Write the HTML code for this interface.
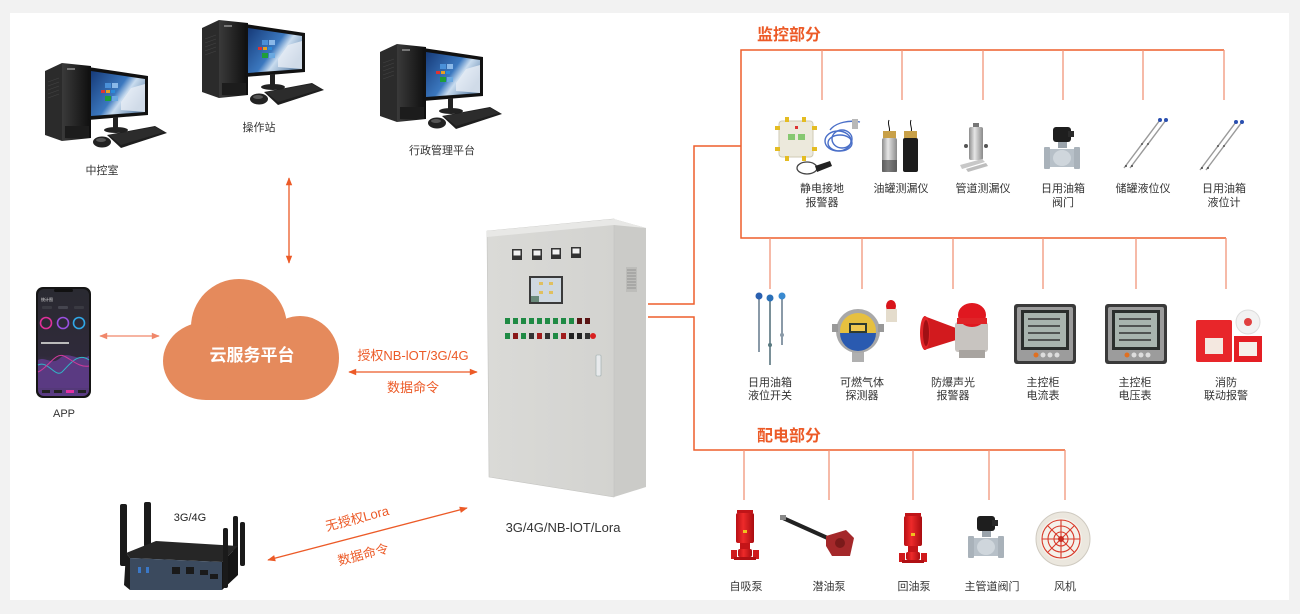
<!DOCTYPE html>
<html><head><meta charset="utf-8">
<style>
html,body{margin:0;padding:0;background:#f2f2f2;width:1300px;height:614px;overflow:hidden;}
svg{display:block;}
text{font-family:"Liberation Sans","Noto Sans CJK SC",sans-serif;}
</style></head><body>
<svg width="1300" height="614" viewBox="0 0 1300 614" xmlns="http://www.w3.org/2000/svg">
<defs>
 <linearGradient id="scr" x1="0" y1="0" x2="1" y2="0.6"><stop offset="0" stop-color="#163a78"/><stop offset="0.55" stop-color="#3b78bf"/><stop offset="0.7" stop-color="#c9dcef"/><stop offset="1" stop-color="#6d8fb3"/></linearGradient>
 <linearGradient id="twr" x1="0" y1="0" x2="1" y2="0"><stop offset="0" stop-color="#3a3a3a"/><stop offset="1" stop-color="#0e0e0e"/></linearGradient>
 <linearGradient id="ph" x1="0" y1="0" x2="0" y2="1"><stop offset="0" stop-color="#2a2a31"/><stop offset="0.62" stop-color="#2f2a3a"/><stop offset="1" stop-color="#5c3c86"/></linearGradient>
 <linearGradient id="cab" x1="0" y1="0" x2="1" y2="0"><stop offset="0" stop-color="#dadad7"/><stop offset="1" stop-color="#d3d3d0"/></linearGradient>
 <linearGradient id="red" x1="0" y1="0" x2="1" y2="0"><stop offset="0" stop-color="#b80f14"/><stop offset="0.4" stop-color="#ee2a2a"/><stop offset="1" stop-color="#a80c10"/></linearGradient>
 <linearGradient id="met" x1="0" y1="0" x2="1" y2="0"><stop offset="0" stop-color="#8d8d8d"/><stop offset="0.4" stop-color="#e6e6e6"/><stop offset="1" stop-color="#8a8a8a"/></linearGradient>
 <marker id="ao" viewBox="0 0 10 10" refX="9" refY="5" markerWidth="9" markerHeight="8" markerUnits="userSpaceOnUse" orient="auto-start-reverse"><path d="M0,1 L10,5 L0,9 z" fill="#ec5a27"/></marker>
 <marker id="ap" viewBox="0 0 10 10" refX="9" refY="5" markerWidth="9" markerHeight="8" markerUnits="userSpaceOnUse" orient="auto-start-reverse"><path d="M0,1 L10,5 L0,9 z" fill="#f0876a"/></marker>
 <g id="pc">
  <polygon points="0,9 17,1 17,79 0,73" fill="#2b2b2b"/>
  <g stroke="#444" stroke-width="0.6"><line x1="3" y1="20" x2="14" y2="16"/><line x1="3" y1="24" x2="14" y2="20"/><line x1="3" y1="28" x2="14" y2="24"/><line x1="3" y1="32" x2="14" y2="28"/><line x1="3" y1="36" x2="14" y2="32"/></g>
  <polygon points="17,1 46,4 46,76 17,79" fill="url(#twr)"/>
  <rect x="22" y="6" width="8" height="2" fill="#777"/>
  <rect x="20" y="64" width="24" height="12" fill="#1c1c1c"/>
  <polygon points="43,5 103,14 103,53 43,58" fill="#111"/>
  <polygon points="46,9 100,17 100,50 46,54" fill="url(#scr)"/>
  <rect x="60" y="21" width="6" height="5" fill="#4a90d8"/><rect x="67" y="21" width="6" height="5" fill="#8ab8e8"/>
  <rect x="56" y="28" width="4" height="3" fill="#d33"/><rect x="61" y="28" width="4" height="3" fill="#e6a020"/><rect x="66" y="28" width="4" height="3" fill="#2a8ad8"/>
  <rect x="60" y="34" width="6" height="5" fill="#1e9e3a"/><rect x="67" y="34" width="6" height="5" fill="#6aa8e0"/>
  <polygon points="76,40 86,26 100,22 100,50 76,48" fill="#e8eef5" opacity="0.8"/>
  <rect x="68" y="55" width="5" height="12" fill="#222"/>
  <ellipse cx="71" cy="68" rx="12" ry="3" fill="#222"/>
  <polygon points="62,73 110,64 122,71 76,86" fill="#1e1e1e"/>
  <polygon points="64,73 110,65 119,70 76,83" fill="#2c2c2c"/>
  <ellipse cx="57" cy="80" rx="9" ry="5.5" fill="#222"/>
  <ellipse cx="56" cy="78" rx="5" ry="2" fill="#555"/>
 </g>
 <g id="rod">
  <line x1="0" y1="0" x2="-36" y2="48" stroke="#9a9a9a" stroke-width="1.4"/>
  <circle cx="0" cy="0" r="2" fill="#2a4fb0"/>
  <circle cx="-18" cy="24" r="1" fill="#555"/>
  <circle cx="-34" cy="46" r="1" fill="#444"/>
 </g>
 <g id="meter">
  <rect x="0" y="0" width="62" height="60" rx="3" fill="#3a3a3a"/>
  <rect x="3" y="3" width="56" height="54" rx="2" fill="#9c9c9c"/>
  <rect x="7" y="6" width="48" height="40" fill="#2a2e2c"/>
  <rect x="10" y="9" width="42" height="34" fill="#a8b4ae"/>
  <g stroke="#333" stroke-width="1.6"><line x1="14" y1="15" x2="46" y2="15"/><line x1="14" y1="22" x2="46" y2="22"/><line x1="14" y1="29" x2="46" y2="29"/><line x1="14" y1="36" x2="46" y2="36"/></g>
  <circle cx="22" cy="51" r="2.5" fill="#e07020"/><circle cx="29" cy="51" r="2.5" fill="#ddd"/><circle cx="36" cy="51" r="2.5" fill="#ddd"/><circle cx="43" cy="51" r="2.5" fill="#ddd"/>
 </g>
 <g id="pump">
  <rect x="6" y="0" width="16" height="3" fill="#c01418"/>
  <rect x="5" y="3" width="18" height="30" rx="2" fill="url(#red)"/>
  <rect x="9" y="33" width="10" height="8" fill="#c41418"/>
  <rect x="7" y="39" width="14" height="8" rx="2" fill="url(#red)"/>
  <rect x="0" y="40" width="6" height="9" fill="#d01a1c"/><rect x="22" y="40" width="6" height="9" fill="#d01a1c"/>
  <rect x="3" y="47" width="22" height="3" fill="#b01014"/>
  <rect x="12" y="20" width="4" height="3" fill="#f0c020"/>
 </g>
 <g id="valve">
  <rect x="9" y="0" width="18" height="15" rx="3" fill="#1e1e1e"/>
  <rect x="24" y="4" width="6" height="6" fill="#2a2a2a"/>
  <rect x="14" y="15" width="9" height="6" fill="#9aa3ab"/>
  <path d="M5,22 h26 v18 h-26z" fill="#b7c0c8"/>
  <rect x="0" y="20" width="6" height="22" rx="1" fill="#a9b2ba"/>
  <rect x="30" y="20" width="6" height="22" rx="1" fill="#a9b2ba"/>
  <ellipse cx="18" cy="31" rx="9" ry="8" fill="#cfd6dc"/>
 </g>
</defs>

<rect x="10" y="13" width="1279" height="587" fill="#ffffff"/>

<!-- computers -->
<use href="#pc" x="45" y="62"/>
<use href="#pc" x="202" y="19"/>
<use href="#pc" x="380" y="43"/>
<g font-size="11" fill="#333" text-anchor="middle">
 <text x="102" y="174">中控室</text>
 <text x="259" y="131">操作站</text>
 <text x="442" y="154">行政管理平台</text>
</g>

<!-- vertical arrow -->
<line x1="289" y1="178" x2="289" y2="263" stroke="#ec5a27" stroke-width="1.3" marker-start="url(#ao)" marker-end="url(#ao)"/>

<!-- cloud -->
<g fill="#e58a5c">
 <circle cx="239" cy="327" r="48"/>
 <ellipse cx="206" cy="361" rx="43" ry="39"/>
 <ellipse cx="300" cy="358" rx="39" ry="42"/>
 <rect x="206" y="340" width="94" height="60"/>
</g>
<text x="252" y="361" font-size="17" font-weight="bold" fill="#ffffff" text-anchor="middle">云服务平台</text>

<!-- phone -->
<rect x="36" y="287" width="55" height="111" rx="7" fill="#151515"/>
<rect x="38" y="289" width="51" height="107" rx="6" fill="url(#ph)"/>
<rect x="54" y="289" width="19" height="3" rx="1.5" fill="#111"/>
<text x="41" y="301" font-size="4" fill="#ddd">统计图</text>
<rect x="42" y="306" width="10" height="3" rx="1" fill="#3a3a42"/><rect x="58" y="306" width="10" height="3" rx="1" fill="#45454f"/><rect x="74" y="306" width="10" height="3" rx="1" fill="#3a3a42"/>
<circle cx="46" cy="323" r="5.5" fill="none" stroke="#e0309a" stroke-width="1.6"/>
<circle cx="63" cy="323" r="5.5" fill="none" stroke="#9a50e0" stroke-width="1.6"/>
<circle cx="79" cy="323" r="5.5" fill="none" stroke="#30a8e8" stroke-width="1.6"/>
<rect x="41" y="342" width="28" height="2" fill="#bbb"/>
<path d="M38,360 C46,356 52,366 60,358 C68,350 76,362 89,356 L89,388 L38,388 z" fill="#5a3a82"/>
<path d="M38,365 C48,360 55,378 62,372 C70,364 78,352 89,360" fill="none" stroke="#30b8c8" stroke-width="1"/>
<path d="M38,372 C48,368 55,352 64,356 C72,360 80,368 89,366" fill="none" stroke="#d03a9a" stroke-width="1"/>
<rect x="42" y="390" width="8" height="3" fill="#222"/><rect x="54" y="390" width="8" height="3" fill="#222"/><rect x="66" y="390" width="8" height="3" fill="#e030a0"/><rect x="78" y="390" width="8" height="3" fill="#222"/>
<text x="64" y="417" font-size="11" fill="#333" text-anchor="middle">APP</text>

<!-- phone-cloud arrow -->
<line x1="100" y1="336" x2="159" y2="336" stroke="#f0876a" stroke-width="1.3" marker-start="url(#ap)" marker-end="url(#ap)"/>

<!-- NB arrow -->
<text x="413" y="360" font-size="13" fill="#ec5a27" text-anchor="middle">授权NB-lOT/3G/4G</text>
<line x1="349" y1="372" x2="477" y2="372" stroke="#ec5a27" stroke-width="1.3" marker-start="url(#ao)" marker-end="url(#ao)"/>
<text x="413" y="392" font-size="13" fill="#ec5a27" text-anchor="middle">数据命令</text>

<!-- cabinet -->
<polygon points="614,219 646,228 646,487 614,497" fill="#cbcbc8"/>
<polygon points="487,231 614,219 614,497 489,477" fill="url(#cab)" stroke="#c4c4c1" stroke-width="0.6"/>
<polygon points="487,231 614,219 646,228 614,225 487,237" fill="#e8e8e6"/>
<g fill="#bdbdba"><rect x="626" y="267" width="11" height="25"/></g>
<g stroke="#8a8a88" stroke-width="0.8"><line x1="627" y1="270" x2="636" y2="270"/><line x1="627" y1="273" x2="636" y2="273"/><line x1="627" y1="276" x2="636" y2="276"/><line x1="627" y1="279" x2="636" y2="279"/><line x1="627" y1="282" x2="636" y2="282"/><line x1="627" y1="285" x2="636" y2="285"/><line x1="627" y1="288" x2="636" y2="288"/></g>
<g fill="#333"><rect x="512" y="249" width="10" height="11"/><rect x="532" y="249" width="10" height="11"/><rect x="551" y="248" width="10" height="11"/><rect x="571" y="247" width="10" height="11"/></g>
<g fill="#f2f2f2"><rect x="513.5" y="250.5" width="7" height="5"/><rect x="533.5" y="250.5" width="7" height="5"/><rect x="552.5" y="249.5" width="7" height="5"/><rect x="572.5" y="248.5" width="7" height="5"/></g>
<rect x="529" y="276" width="34" height="28" fill="#3a3a3a"/>
<rect x="531" y="278" width="30" height="24" fill="#cfd8e0"/>
<g fill="#e0c060"><rect x="539" y="282" width="4" height="3"/><rect x="549" y="282" width="4" height="3"/><rect x="539" y="291" width="4" height="3"/><rect x="549" y="291" width="4" height="3"/></g>
<rect x="531" y="296" width="8" height="6" fill="#6a8a7a"/>
<g>
 <rect x="505" y="318" width="5" height="6" fill="#1f8a44"/><rect x="513" y="318" width="5" height="6" fill="#1f8a44"/><rect x="521" y="318" width="5" height="6" fill="#1f8a44"/><rect x="529" y="318" width="5" height="6" fill="#1f8a44"/><rect x="537" y="318" width="5" height="6" fill="#1f8a44"/><rect x="545" y="318" width="5" height="6" fill="#1f8a44"/><rect x="553" y="318" width="5" height="6" fill="#1f8a44"/><rect x="561" y="318" width="5" height="6" fill="#1f8a44"/><rect x="569" y="318" width="5" height="6" fill="#1f8a44"/><rect x="577" y="318" width="5" height="6" fill="#5a1414"/><rect x="585" y="318" width="5" height="6" fill="#5a1414"/>
 <rect x="505" y="333" width="5" height="6" fill="#1f8a44"/><rect x="513" y="333" width="5" height="6" fill="#8a1818"/><rect x="521" y="333" width="5" height="6" fill="#1f8a44"/><rect x="529" y="333" width="5" height="6" fill="#333"/><rect x="537" y="333" width="5" height="6" fill="#a01c1c"/><rect x="545" y="333" width="5" height="6" fill="#333"/><rect x="553" y="333" width="5" height="6" fill="#1f8a44"/><rect x="561" y="333" width="5" height="6" fill="#a01c1c"/><rect x="569" y="333" width="5" height="6" fill="#222"/><rect x="577" y="333" width="5" height="6" fill="#222"/><rect x="585" y="333" width="5" height="6" fill="#333"/><circle cx="593" cy="336" r="3" fill="#d82020"/>
</g>
<rect x="596" y="355" width="5" height="21" rx="1" fill="#e8eaec" stroke="#9aa" stroke-width="0.6"/>
<text x="563" y="532" font-size="13" fill="#333" text-anchor="middle">3G/4G/NB-lOT/Lora</text>

<!-- router -->
<rect x="120" y="504" width="7" height="62" rx="2" fill="#1a1a1a"/>
<rect x="144" y="502" width="7" height="45" rx="2" fill="#1a1a1a"/>
<rect x="233" y="516" width="5" height="48" rx="2" fill="#1a1a1a"/>
<rect x="240" y="522" width="5" height="44" rx="2" fill="#1a1a1a"/>
<polygon points="126,553 156,541 238,546 222,562 130,558" fill="#262626"/>
<polygon points="126,553 130,558 130,590 124,585" fill="#1a1a1a"/>
<polygon points="130,558 222,562 222,590 130,590" fill="#3b4a5e"/>
<polygon points="222,562 238,546 238,575 222,590" fill="#151515"/>
<g fill="#1a1a1a"><rect x="172" y="567" width="8" height="7"/><rect x="186" y="567" width="8" height="7"/><rect x="200" y="570" width="8" height="5"/><rect x="210" y="574" width="8" height="5"/></g>
<g fill="#3a78c8"><rect x="138" y="567" width="3" height="6"/><rect x="146" y="567" width="3" height="6"/></g>
<rect x="223" y="528" width="5" height="60" rx="2" fill="#1a1a1a"/>
<text x="190" y="521" font-size="11" fill="#222" text-anchor="middle">3G/4G</text>

<!-- Lora arrow -->
<line x1="268" y1="560" x2="467" y2="508" stroke="#ec5a27" stroke-width="1.3" marker-start="url(#ao)" marker-end="url(#ao)"/>
<text x="357" y="523" font-size="13" fill="#ec5a27" text-anchor="middle" transform="rotate(-14.6 357 518)">无授权Lora</text>
<text x="363" y="559" font-size="13" fill="#ec5a27" text-anchor="middle" transform="rotate(-14.6 363 554)">数据命令</text>

<!-- connection lines -->
<g stroke="#ee5f2c" stroke-width="1.5" fill="none">
 <polyline points="648,304 694,304 694,146 741,146"/>
 <polyline points="648,317 694,317 694,450 1065,450"/>
 <polyline points="1224,50 741,50 741,238 1226,238"/>
</g>
<g stroke="#f2957a" stroke-width="1.3">
 <line x1="822" y1="50" x2="822" y2="100"/><line x1="902" y1="50" x2="902" y2="100"/><line x1="983" y1="50" x2="983" y2="100"/><line x1="1063" y1="50" x2="1063" y2="100"/><line x1="1143" y1="50" x2="1143" y2="100"/><line x1="1224" y1="50" x2="1224" y2="100"/>
 <line x1="770" y1="238" x2="770" y2="289"/><line x1="862" y1="238" x2="862" y2="289"/><line x1="953" y1="238" x2="953" y2="289"/><line x1="1043" y1="238" x2="1043" y2="289"/><line x1="1136" y1="238" x2="1136" y2="289"/><line x1="1226" y1="238" x2="1226" y2="289"/>
 <line x1="744" y1="450" x2="744" y2="500"/><line x1="829" y1="450" x2="829" y2="500"/><line x1="913" y1="450" x2="913" y2="500"/><line x1="989" y1="450" x2="989" y2="500"/><line x1="1065" y1="450" x2="1065" y2="500"/>
</g>

<text x="757" y="40" font-size="16" font-weight="bold" fill="#ec5a27">监控部分</text>
<text x="757" y="441" font-size="16" font-weight="bold" fill="#ec5a27">配电部分</text>

<!-- row 1 devices -->
<rect x="779" y="121" width="34" height="36" rx="3" fill="#ece9dc" stroke="#cfcab4"/>
<g fill="#e4bc22"><rect x="775" y="126" width="5" height="4"/><rect x="775" y="147" width="5" height="4"/><rect x="812" y="126" width="5" height="4"/><rect x="812" y="147" width="5" height="4"/><rect x="785" y="117" width="4" height="5"/><rect x="802" y="117" width="4" height="5"/><rect x="785" y="156" width="4" height="5"/><rect x="802" y="156" width="4" height="5"/></g>
<rect x="788" y="134" width="7" height="6" fill="#86c870"/><rect x="798" y="134" width="7" height="6" fill="#86c870"/>
<rect x="795" y="126" width="3" height="3" fill="#d33"/>
<g fill="none" stroke="#4a6fc8" stroke-width="1.4"><ellipse cx="838" cy="141" rx="13" ry="10"/><ellipse cx="840" cy="143" rx="12" ry="8"/><ellipse cx="842" cy="139" rx="10" ry="9"/><path d="M830,130 C836,122 850,120 860,122"/></g>
<rect x="852" y="119" width="6" height="10" fill="#b8b8b8"/>
<ellipse cx="807" cy="168" rx="10" ry="6" fill="none" stroke="#444" stroke-width="1.3"/>
<polygon points="815,166 830,161 832,166 817,172" fill="#222"/>

<g>
 <path d="M889,120 C887,125 891,128 889,132" stroke="#111" fill="none"/><path d="M911,120 C909,125 913,128 911,132" stroke="#111" fill="none"/>
 <rect x="883" y="131" width="13" height="7" fill="#c8a048"/><rect x="904" y="131" width="13" height="7" fill="#c8a048"/>
 <rect x="882" y="138" width="15" height="34" rx="2" fill="url(#met)"/>
 <rect x="903" y="138" width="15" height="34" rx="2" fill="#1c1c1c"/>
 <rect x="882" y="160" width="15" height="12" fill="#3a3a3a" opacity="0.6"/>
</g>
<g>
 <rect x="973" y="123" width="6" height="5" fill="#777"/>
 <rect x="969" y="127" width="14" height="33" rx="2" fill="url(#met)"/>
 <circle cx="966" cy="146" r="2" fill="#555"/><circle cx="986" cy="146" r="2" fill="#555"/>
 <polygon points="960,165 982,159 985,162 962,169" fill="#c8c8c8"/>
 <polygon points="966,169 986,163 988,166 968,172" fill="#bdbdbd"/>
</g>
<use href="#valve" x="1044" y="127"/>
<use href="#rod" x="1160" y="120"/><use href="#rod" x="1166" y="120"/>
<use href="#rod" x="1236" y="122"/><use href="#rod" x="1242" y="122"/>

<g font-size="11" fill="#333" text-anchor="middle">
 <text x="822" y="192">静电接地</text><text x="822" y="206">报警器</text>
 <text x="901" y="192">油罐测漏仪</text>
 <text x="983" y="192">管道测漏仪</text>
 <text x="1063" y="192">日用油箱</text><text x="1063" y="206">阀门</text>
 <text x="1143" y="192">储罐液位仪</text>
 <text x="1224" y="192">日用油箱</text><text x="1224" y="206">液位计</text>
</g>

<!-- row 2 devices -->
<g>
 <line x1="759" y1="298" x2="759" y2="352" stroke="#8a9aa8" stroke-width="2"/>
 <line x1="770" y1="298" x2="770" y2="365" stroke="#7a9098" stroke-width="2"/>
 <line x1="782" y1="298" x2="782" y2="345" stroke="#8a9aa8" stroke-width="2"/>
 <circle cx="759" cy="296" r="3.5" fill="#2a60b0"/><circle cx="770" cy="298" r="3.5" fill="#2a70b8"/><circle cx="782" cy="296" r="3.5" fill="#3a8ad0"/>
 <circle cx="770" cy="345" r="2" fill="#5a7a80"/><circle cx="782" cy="335" r="2" fill="#8a9aa8"/>
</g>
<g>
 <rect x="852" y="348" width="12" height="14" fill="#b0b0b0"/>
 <circle cx="858" cy="331" r="22" fill="#a8a8a8"/>
 <circle cx="858" cy="331" r="18" fill="#e6c040"/>
 <path d="M840,333 A18,18 0 0 0 876,333 z" fill="#2a5ab0"/>
 <rect x="849" y="323" width="18" height="10" fill="#2e3a30"/>
 <rect x="851" y="325" width="14" height="6" fill="#f0c850"/>
 <rect x="832" y="324" width="6" height="8" fill="#999"/><rect x="878" y="324" width="6" height="8" fill="#999"/>
 <ellipse cx="891" cy="306" rx="5" ry="6" fill="#d8141a"/>
 <rect x="886" y="309" width="11" height="13" fill="#e4dccc"/>
</g>
<g>
 <polygon points="924,316 956,328 956,340 924,350" fill="#d21a1e"/>
 <ellipse cx="925" cy="333" rx="5" ry="17" fill="#e02428"/>
 <ellipse cx="926" cy="333" rx="3" ry="13" fill="#a01014"/>
 <rect x="955" y="322" width="33" height="30" rx="3" fill="#c8c4c0"/>
 <rect x="959" y="350" width="26" height="8" fill="#a8a4a0"/>
 <ellipse cx="972" cy="315" rx="14" ry="12" fill="#e01820"/>
 <rect x="957" y="318" width="30" height="6" fill="#e02428"/>
</g>
<use href="#meter" x="1014" y="304"/>
<use href="#meter" x="1105" y="304"/>
<g>
 <rect x="1196" y="320" width="36" height="42" rx="2" fill="#e8262a"/>
 <rect x="1205" y="338" width="18" height="16" fill="#f4e8e0"/>
 <circle cx="1248" cy="322" r="12" fill="#f2f2f2" stroke="#ddd"/>
 <circle cx="1248" cy="322" r="4" fill="#e04040"/>
 <rect x="1234" y="336" width="28" height="26" fill="#e41e24"/>
 <rect x="1239" y="342" width="18" height="14" fill="#f6f0ea"/>
</g>

<g font-size="11" fill="#333" text-anchor="middle">
 <text x="770" y="386">日用油箱</text><text x="770" y="399">液位开关</text>
 <text x="862" y="386">可燃气体</text><text x="862" y="399">探测器</text>
 <text x="953" y="386">防爆声光</text><text x="953" y="399">报警器</text>
 <text x="1043" y="386">主控柜</text><text x="1043" y="399">电流表</text>
 <text x="1135" y="386">主控柜</text><text x="1135" y="399">电压表</text>
 <text x="1226" y="386">消防</text><text x="1226" y="399">联动报警</text>
</g>

<!-- power devices -->
<use href="#pump" x="731" y="510"/>
<use href="#pump" x="899" y="513"/>
<g>
 <line x1="783" y1="518" x2="832" y2="540" stroke="#222" stroke-width="4"/>
 <rect x="780" y="515" width="6" height="5" fill="#888"/>
 <path d="M826,536 L846,530 L854,538 L850,556 L832,556 L826,546 z" fill="#a4282a"/>
 <circle cx="840" cy="543" r="5" fill="#7a1a1a"/>
</g>
<use href="#valve" x="968" y="516"/>
<g>
 <circle cx="1063" cy="539" r="27" fill="#ebe7de" stroke="#cfcac0"/>
 <circle cx="1061" cy="539" r="21" fill="#f4f1ea"/>
 <g stroke="#d83a2a" stroke-width="1.1" fill="none"><circle cx="1061" cy="539" r="19"/><circle cx="1061" cy="539" r="13"/><circle cx="1061" cy="539" r="7"/><line x1="1042" y1="539" x2="1080" y2="539"/><line x1="1061" y1="520" x2="1061" y2="558"/><line x1="1048" y1="526" x2="1074" y2="552"/><line x1="1074" y1="526" x2="1048" y2="552"/></g>
 <circle cx="1061" cy="539" r="3" fill="#c82a20"/>
</g>

<g font-size="11" fill="#333" text-anchor="middle">
 <text x="746" y="590">自吸泵</text>
 <text x="829" y="590">潜油泵</text>
 <text x="914" y="590">回油泵</text>
 <text x="992" y="590">主管道阀门</text>
 <text x="1065" y="590">风机</text>
</g>
</svg>
</body></html>
